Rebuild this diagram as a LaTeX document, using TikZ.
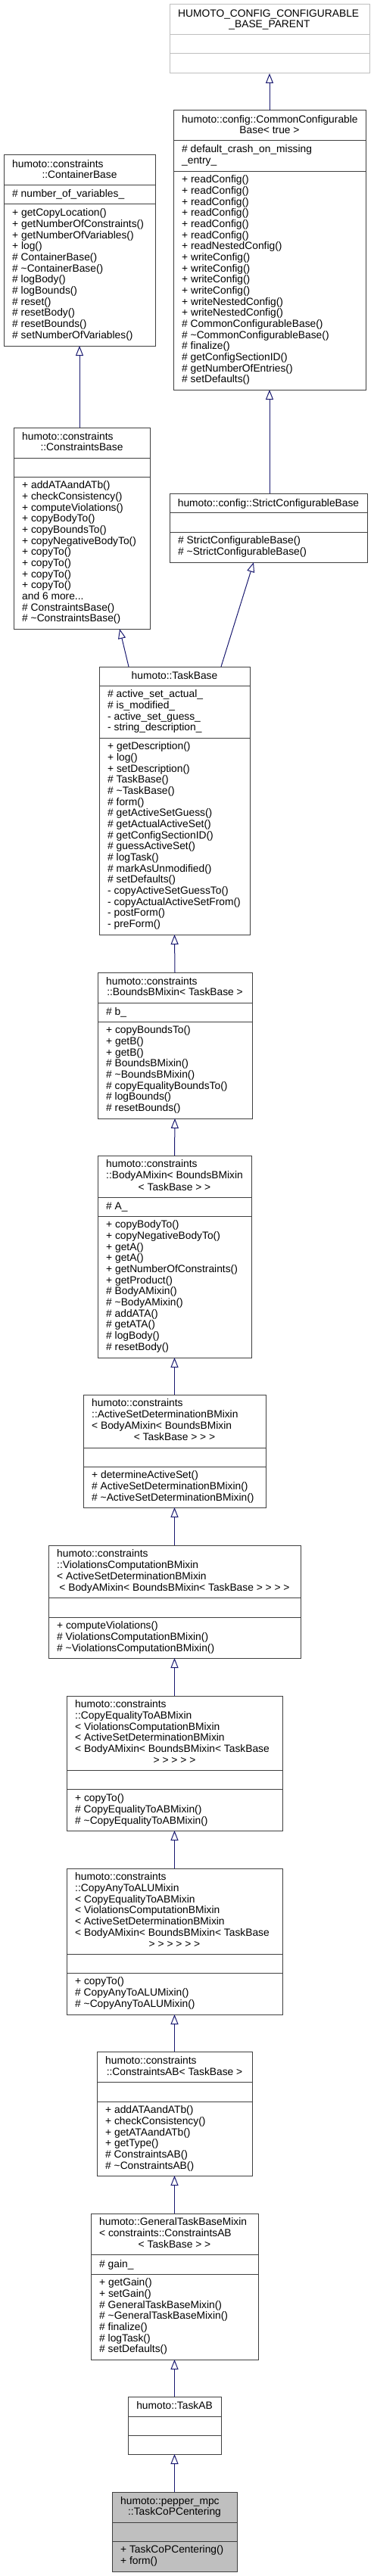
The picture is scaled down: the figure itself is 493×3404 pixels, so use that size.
\documentclass[tikz,border=0pt]{standalone}
\usepackage{fontspec}
\setmainfont{Liberation Sans}
\usetikzlibrary{arrows.meta,fit}
\definecolor{boxc}{HTML}{404040}
\definecolor{pgray}{HTML}{BFBFBF}
\definecolor{arrc}{HTML}{191970}
\newcommand\dfs{\fontsize{13.8pt}{14.67pt}\selectfont}
\newcommand\tl{\textasciitilde}
\begin{document}
\begin{tikzpicture}[x=1pt,y=-1pt,
  cls/.style={draw=boxc, line width=1pt, fill=white, inner sep=0pt, outer sep=0pt},
  div/.style={draw=boxc, line width=1pt},
  inh/.style={draw=arrc, line width=1pt, -{Triangle[length=13pt,width=10pt,fill=white]}},
  txt/.style={anchor=north west, align=left, inner sep=0pt, font=\dfs, yshift=10.27pt, execute at begin node=\strut},
  txc/.style={anchor=base, align=center, inner sep=0pt, font=\dfs}]
\useasboundingbox[fill=white] (0,0) rectangle (493,3404);

% HUMOTO_CONFIG_CONFIGURABLE_BASE_PARENT
\node[cls, draw=pgray, fit={(224,6) (488,97)}] (cfgp) {};
\draw[div, draw=pgray] (224,46) -- (488,46) (224,71) -- (488,71);
\node[txt] (cfgpt) at (235,22) {HUMOTO\_CONFIG\_CONFIGURABLE};
\node[txc] (cfgpc) at (356,37) {\_BASE\_PARENT};

% CommonConfigurableBase
\node[cls, fit={(229,146) (483,515)}] (common) {};
\draw[div] (229,186) -- (483,186) (229,226) -- (483,226);
\node[txt] (commont) at (240,162) {humoto::config::CommonConfigurable};
\node[txc] (commonc) at (356,177) {Base< true >};
\node[txt] (commona) at (240,202) {\# default\_crash\_on\_missing\\\_entry\_};
\node[txt] (commonm) at (240,242) {+ readConfig()\\+ readConfig()\\+ readConfig()\\+ readConfig()\\+ readConfig()\\+ readConfig()\\+ readNestedConfig()\\+ writeConfig()\\+ writeConfig()\\+ writeConfig()\\+ writeConfig()\\+ writeNestedConfig()\\+ writeNestedConfig()\\\# CommonConfigurableBase()\\\# \tl CommonConfigurableBase()\\\# finalize()\\\# getConfigSectionID()\\\# getNumberOfEntries()\\\# setDefaults()};

% ContainerBase
\node[cls, fit={(5,205) (205,457)}] (container) {};
\draw[div] (5,244) -- (205,244) (5,269) -- (205,269);
\node[txt] (containert) at (16,221) {humoto::constraints};
\node[txc] (containerc) at (105,235) {::ContainerBase};
\node[txt] (containera) at (16,260) {\# number\_of\_variables\_};
\node[txt] (containerm) at (16,286) {+ getCopyLocation()\\+ getNumberOfConstraints()\\+ getNumberOfVariables()\\+ log()\\\# ContainerBase()\\\# \tl ContainerBase()\\\# logBody()\\\# logBounds()\\\# reset()\\\# resetBody()\\\# resetBounds()\\\# setNumberOfVariables()};

% ConstraintsBase
\node[cls, fit={(18,565) (198,831)}] (cbase) {};
\draw[div] (18,605) -- (198,605) (18,630) -- (198,630);
\node[txt] (cbaset) at (29,581) {humoto::constraints};
\node[txc] (cbasec) at (108,595) {::ConstraintsBase};
\node[txt] (cbasem) at (29,646) {+ addATAandATb()\\+ checkConsistency()\\+ computeViolations()\\+ copyBodyTo()\\+ copyBoundsTo()\\+ copyNegativeBodyTo()\\+ copyTo()\\+ copyTo()\\+ copyTo()\\+ copyTo()\\and 6 more...\\\# ConstraintsBase()\\\# \tl ConstraintsBase()};

% StrictConfigurableBase
\node[cls, fit={(224,652) (485,743)}] (strict) {};
\draw[div] (224,677) -- (485,677) (224,703) -- (485,703);
\node[txc] (strictc) at (354.5,669) {humoto::config::StrictConfigurableBase};
\node[txt] (strictm) at (235,719) {\# StrictConfigurableBase()\\\# \tl StrictConfigurableBase()};

% TaskBase
\node[cls, fit={(131,881) (330,1235)}] (taskbase) {};
\draw[div] (131,906) -- (330,906) (131,975) -- (330,975);
\node[txc] (taskbasec) at (230.5,897) {humoto::TaskBase};
\node[txt] (taskbasea) at (142,922) {\# active\_set\_actual\_\\\# is\_modified\_\\- active\_set\_guess\_\\- string\_description\_};
\node[txt] (taskbasem) at (142,991) {+ getDescription()\\+ log()\\+ setDescription()\\\# TaskBase()\\\# \tl TaskBase()\\\# form()\\\# getActiveSetGuess()\\\# getActualActiveSet()\\\# getConfigSectionID()\\\# guessActiveSet()\\\# logTask()\\\# markAsUnmodified()\\\# setDefaults()\\- copyActiveSetGuessTo()\\- copyActualActiveSetFrom()\\- postForm()\\- preForm()};

% BoundsBMixin
\node[cls, fit={(129,1285) (333,1478)}] (bounds) {};
\draw[div] (129,1325) -- (333,1325) (129,1350) -- (333,1350);
\node[txt] (boundst) at (140,1301) {humoto::constraints};
\node[txc] (boundsc) at (231,1315) {::BoundsBMixin< TaskBase >};
\node[txt] (boundsa) at (140,1341) {\# b\_};
\node[txt] (boundsm) at (140,1366) {+ copyBoundsTo()\\+ getB()\\+ getB()\\\# BoundsBMixin()\\\# \tl BoundsBMixin()\\\# copyEqualityBoundsTo()\\\# logBounds()\\\# resetBounds()};

% BodyAMixin
\node[cls, fit={(129,1527) (332,1794)}] (bodya) {};
\draw[div] (129,1582) -- (332,1582) (129,1607) -- (332,1607);
\node[txt] (bodyat) at (140,1543) {humoto::constraints\\::BodyAMixin< BoundsBMixin};
\node[txc] (bodyac) at (230.5,1573) {< TaskBase > >};
\node[txt] (bodyaa) at (140,1598) {\# A\_};
\node[txt] (bodyam) at (140,1623) {+ copyBodyTo()\\+ copyNegativeBodyTo()\\+ getA()\\+ getA()\\+ getNumberOfConstraints()\\+ getProduct()\\\# BodyAMixin()\\\# \tl BodyAMixin()\\\# addATA()\\\# getATA()\\\# logBody()\\\# resetBody()};

% ActiveSetDeterminationBMixin
\node[cls, fit={(110,1843) (351,1992)}] (actset) {};
\draw[div] (110,1913) -- (351,1913) (110,1938) -- (351,1938);
\node[txt] (actsett) at (121,1859) {humoto::constraints\\::ActiveSetDeterminationBMixin\\< BodyAMixin< BoundsBMixin};
\node[txc] (actsetc) at (230.5,1903) {< TaskBase > > >};
\node[txt] (actsetm) at (121,1954) {+ determineActiveSet()\\\# ActiveSetDeterminationBMixin()\\\# \tl ActiveSetDeterminationBMixin()};

% ViolationsComputationBMixin
\node[cls, fit={(64,2042) (397,2191)}] (viol) {};
\draw[div] (64,2111) -- (397,2111) (64,2137) -- (397,2137);
\node[txt] (violt) at (75,2058) {humoto::constraints\\::ViolationsComputationBMixin\\< ActiveSetDeterminationBMixin};
\node[txc] (violc) at (230.5,2102) {< BodyAMixin< BoundsBMixin< TaskBase > > > >};
\node[txt] (violm) at (75,2153) {+ computeViolations()\\\# ViolationsComputationBMixin()\\\# \tl ViolationsComputationBMixin()};

% CopyEqualityToABMixin
\node[cls, fit={(88,2241) (373,2419)}] (copyeq) {};
\draw[div] (88,2339) -- (373,2339) (88,2364) -- (373,2364);
\node[txt] (copyeqt) at (99,2257) {humoto::constraints\\::CopyEqualityToABMixin\\< ViolationsComputationBMixin\\< ActiveSetDeterminationBMixin\\< BodyAMixin< BoundsBMixin< TaskBase};
\node[txc] (copyeqc) at (230.5,2330) {> > > > >};
\node[txt] (copyeqm) at (99,2381) {+ copyTo()\\\# CopyEqualityToABMixin()\\\# \tl CopyEqualityToABMixin()};

% CopyAnyToALUMixin
\node[cls, fit={(88,2469) (373,2662)}] (copyany) {};
\draw[div] (88,2582) -- (373,2582) (88,2607) -- (373,2607);
\node[txt] (copyanyt) at (99,2485) {humoto::constraints\\::CopyAnyToALUMixin\\< CopyEqualityToABMixin\\< ViolationsComputationBMixin\\< ActiveSetDeterminationBMixin\\< BodyAMixin< BoundsBMixin< TaskBase};
\node[txc] (copyanyc) at (230.5,2573) {> > > > > >};
\node[txt] (copyanym) at (99,2623) {+ copyTo()\\\# CopyAnyToALUMixin()\\\# \tl CopyAnyToALUMixin()};

% ConstraintsAB
\node[cls, fit={(128,2711) (333,2875)}] (cab) {};
\draw[div] (128,2751) -- (333,2751) (128,2777) -- (333,2777);
\node[txt] (cabt) at (139,2727) {humoto::constraints};
\node[txc] (cabc) at (230.5,2742) {::ConstraintsAB< TaskBase >};
\node[txt] (cabm) at (139,2793) {+ addATAandATb()\\+ checkConsistency()\\+ getATAandATb()\\+ getType()\\\# ConstraintsAB()\\\# \tl ConstraintsAB()};

% GeneralTaskBaseMixin
\node[cls, fit={(120,2925) (341,3118)}] (general) {};
\draw[div] (120,2979) -- (341,2979) (120,3005) -- (341,3005);
\node[txt] (generalt) at (131,2941) {humoto::GeneralTaskBaseMixin\\< constraints::ConstraintsAB};
\node[txc] (generalc) at (230.5,2970) {< TaskBase > >};
\node[txt] (generala) at (131,2996) {\# gain\_};
\node[txt] (generalm) at (131,3021) {+ getGain()\\+ setGain()\\\# GeneralTaskBaseMixin()\\\# \tl GeneralTaskBaseMixin()\\\# finalize()\\\# logTask()\\\# setDefaults()};

% TaskAB
\node[cls, fit={(169,3167) (292,3243)}] (taskab) {};
\draw[div] (169,3193) -- (292,3193) (169,3218) -- (292,3218);
\node[txc] (taskabc) at (230.5,3183) {humoto::TaskAB};

% TaskCoPCentering
\node[cls, fill=pgray, fit={(148,3293) (313,3398)}] (copc) {};
\draw[div] (148,3333) -- (313,3333) (148,3358) -- (313,3358);
\node[txt] (copct) at (159,3309) {humoto::pepper\_mpc};
\node[txc] (copcc) at (230.5,3323) {::TaskCoPCentering};
\node[txt] (copcm) at (159,3374) {+ TaskCoPCentering()\\+ form()};

% inheritance arrows
\draw[inh] (common.north) -- (cfgp.south);
\draw[inh] (strict.north -| common.south) -- (common.south);
\draw[inh] (cbase.north -| container.south) -- (container.south);
\draw[inh] ([xshift=39pt]taskbase.north west) -- ([xshift=140pt]cbase.south west);
\draw[inh] ([xshift=161pt]taskbase.north west) -- ([xshift=111pt]strict.south west);
\draw[inh] (bounds.north) -- (taskbase.south);
\draw[inh] (bodya.north) -- (bounds.south);
\draw[inh] (actset.north) -- (bodya.south);
\draw[inh] (viol.north) -- (actset.south);
\draw[inh] (copyeq.north) -- (viol.south);
\draw[inh] (copyany.north) -- (copyeq.south);
\draw[inh] (cab.north) -- (copyany.south);
\draw[inh] (general.north) -- (cab.south);
\draw[inh] (taskab.north) -- (general.south);
\draw[inh] (copc.north) -- (taskab.south);
\end{tikzpicture}
\end{document}
